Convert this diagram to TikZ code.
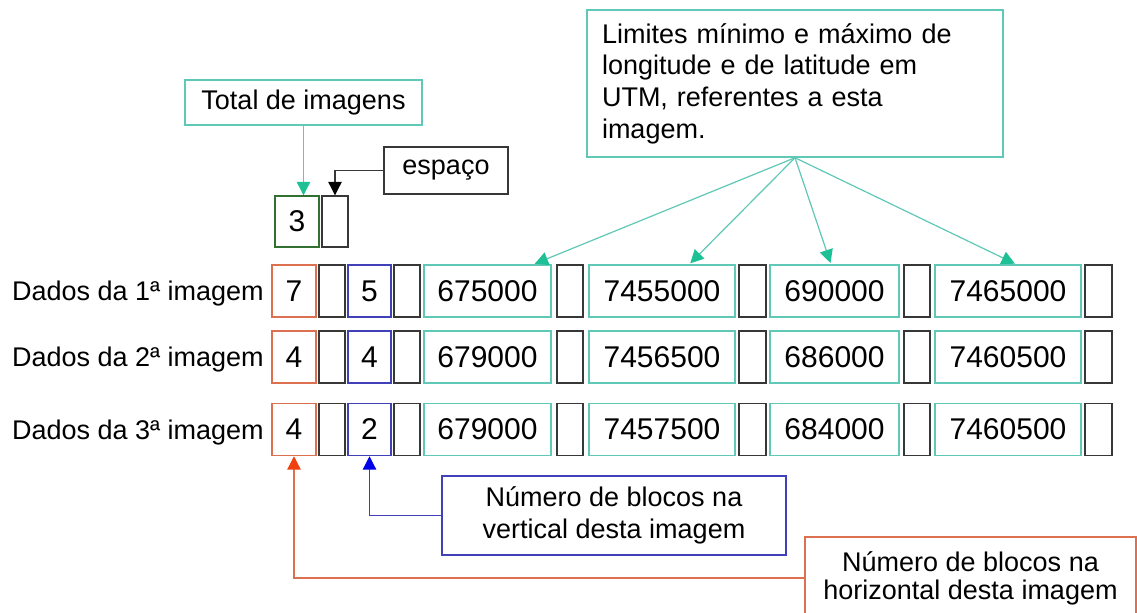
\documentclass[tikz,border=0pt]{standalone}
\usepackage{fontspec}
\setmainfont{Liberation Sans}
\usetikzlibrary{arrows.meta,calc}

\definecolor{tealline}{RGB}{95,200,182}
\definecolor{tealtip}{RGB}{30,192,150}
\definecolor{redline}{RGB}{222,112,82}
\definecolor{redtip}{RGB}{240,64,16}
\definecolor{blueline}{RGB}{64,64,185}
\definecolor{bluetip}{RGB}{0,0,235}
\definecolor{greenline}{RGB}{50,112,50}
\definecolor{grayline}{RGB}{55,55,55}

\tikzset{
  cell/.style 2 args={draw, line width=1.1pt, inner sep=0pt,
    minimum width=#1*0.75pt, minimum height=#2*0.75pt,
    font=\fontsize{22.5}{27}\selectfont},
  callout/.style 2 args={draw, line width=1.1pt, inner sep=0pt,
    minimum width=#1*0.75pt, minimum height=#2*0.75pt,
    font=\fontsize{20.25}{23.8}\selectfont},
  rowlabel/.style={inner sep=0pt, anchor=east, text height=14.5pt, text depth=0pt,
    font=\fontsize{20.25}{23.8}\selectfont},
  link/.style={line width=0.9pt},
  head/.style={-{Triangle[length=10pt,width=10pt,color=#1]}}
}

\begin{document}
\begin{tikzpicture}[x=0.75pt,y=-0.75pt]
  \useasboundingbox (0,0) rectangle (1137,612);
  \fill[white] (0,0) rectangle (1137,612);
  \clip (0,0) rectangle (1137,612);

  % header: number of images followed by a blank
  \node[cell={44}{51}, draw=greenline] (tot) at (297,221.5) {3};
  \node[cell={26}{51}, draw=grayline] (sp0) at (335,221.5) {};

  % one record per image
  \foreach \rw/\yy/\vA/\vB/\vC/\vD/\vE/\vF in {
      1/291/7/5/675000/7455000/690000/7465000,
      2/357/4/4/679000/7456500/686000/7460500,
      3/429.5/4/2/679000/7457500/684000/7460500}{
    \node[rowlabel] (lab\rw) at (264,\yy) {Dados da \rw{}ª imagem};
    \node[cell={44}{52}, draw=redline] (red\rw) at (294,\yy) {\vA};
    \node[cell={26}{52}, draw=grayline] (spa\rw) at (332,\yy) {};
    \node[cell={43}{52}, draw=blueline] (blue\rw) at (369.5,\yy) {\vB};
    \node[cell={26}{52}, draw=grayline] (spb\rw) at (407,\yy) {};
    \node[cell={127}{52}, draw=tealline] (lon\rw) at (487.5,\yy) {\vC};
    \node[cell={26}{52}, draw=grayline] (spc\rw) at (570,\yy) {};
    \node[cell={146}{52}, draw=tealline] (lat\rw) at (662,\yy) {\vD};
    \node[cell={27}{52}, draw=grayline] (spd\rw) at (752.5,\yy) {};
    \node[cell={129}{52}, draw=tealline] (lonb\rw) at (834.5,\yy) {\vE};
    \node[cell={26}{52}, draw=grayline] (spe\rw) at (917,\yy) {};
    \node[cell={146}{52}, draw=tealline] (latb\rw) at (1008,\yy) {\vF};
    \node[cell={27}{52}, draw=grayline] (spf\rw) at (1098.5,\yy) {};
  }

  % explanatory boxes
  \node[callout={237}{45}, draw=tealline] (totbox) at (303.5,102.5) {Total de imagens};
  \node[callout={124}{47}, draw=grayline] (espbox) at (446,170.5) {espaço};
  \node[callout={416}{147}, draw=tealline, text width=289.5pt, align=left]
    (limbox) at (795,83.5)
    {Limites mínimo e máximo de\\longitude e de latitude em\\UTM, referentes a esta\\imagem.};
  \node[callout={344}{79}, draw=blueline, align=center] (vbox) at (614,515.5)
    {Número de blocos na\\vertical desta imagem};
  \node[callout={331}{82}, draw=redline, align=center,
    font=\fontsize{20.25}{21}\selectfont] (hbox) at (970.5,578)
    {Número de blocos na\\horizontal desta imagem};

  % connectors
  \draw[link, tealline, head=tealtip] (totbox.south) -- (totbox.south |- tot.north);
  \draw[link, grayline, head=black] (espbox.west) -| (sp0.north);
  \draw[link, tealline, head=tealtip, shorten >=1pt] (limbox.south) -- ($(lon1.north west)!0.858!(lon1.north east)$);
  \draw[link, tealline, head=tealtip, shorten >=1pt] (limbox.south) -- ($(lat1.north west)!0.685!(lat1.north east)$);
  \draw[link, tealline, head=tealtip, shorten >=1pt] (limbox.south) -- ($(lonb1.north west)!0.473!(lonb1.north east)$);
  \draw[link, tealline, head=tealtip, shorten >=1pt] (limbox.south) -- ($(latb1.north west)!0.555!(latb1.north east)$);
  \draw[link, blueline, head=bluetip] (vbox.west) -| (blue3.south);
  \draw[link, redline, head=redtip] (hbox.west) -| (red3.south);
\end{tikzpicture}
\end{document}
